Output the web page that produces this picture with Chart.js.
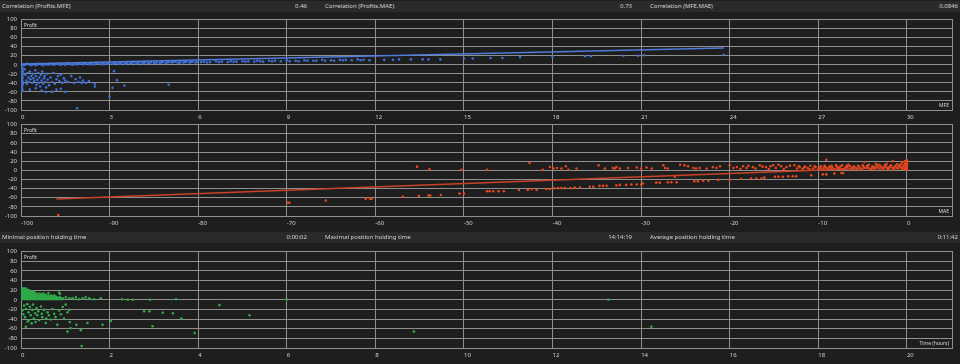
<!DOCTYPE html>
<html>
<head>
<meta charset="utf-8">
<script src="https://cdn.jsdelivr.net/npm/chart.js@4/dist/chart.umd.min.js"></script>
<style>
  body { margin: 0; width: 960px; height: 364px; background: #1e1e1e; overflow: hidden; font-family: "Noto Sans", sans-serif; }
  .bar { position: absolute; left: 0; width: 960px; height: 11px; background: #2a2a2a; color: #d2d2d2; font-size: 6px; line-height: 11px; }
  .bar span { position: absolute; top: 0; white-space: nowrap; }
  canvas { position: absolute; left: 0; }
</style>
</head>
<body>
<div class="bar" id="bar1" style="top:1px"></div>
<canvas id="c1" width="960" height="111" style="top:12px"></canvas>
<canvas id="c2" width="960" height="111" style="top:117px"></canvas>
<div class="bar" id="bar2" style="top:232px"></div>
<canvas id="c3" width="960" height="120" style="top:244px"></canvas>
<script>
// header stats
const corrLabels = ['Correlation (Profits,MFE)', 'Correlation (Profits,MAE)', 'Correlation (MFE,MAE)'];
const corrValues = ['0.46', '0.73', '0.0846'];
const timeLabels = ['Minimal position holding time', 'Maximal position holding time', 'Average position holding time'];
const timeValues = ['0:00:02', '14:14:19', '0:11:42'];

// chart 1: Profit vs MFE
const mfeBand = [
  [0.1,-1],[0.3,0],[0.5,-1],[0.7,0],[0.9,0],[1.1,0],[1.3,1],[1.5,0],[1.7,1],[1.9,1],[2.1,1],[2.3,2],[2.5,1],[2.7,2],[2.9,2],
  [3.1,2],[3.3,3],[3.5,2],[3.7,3],[3.9,3],[4.1,3],[4.3,4],[4.5,4],[4.7,4],[4.9,4],[5.1,5],[5.3,5],[5.5,5],[5.7,5],[5.9,5],
  [6.1,6],[6.4,6],[6.7,6],[7.0,6],[7.3,7],[7.6,7],[7.9,7],[8.2,7],[8.5,8],[8.8,8],[9.1,8],[9.4,8],[9.7,9],[10.0,9],[10.3,9],
  [10.6,9],[10.9,10],[11.2,10],[11.5,10],[11.8,10],
  [0.2,2],[0.4,1],[0.6,2],[0.8,1],[1.0,2],[1.2,2],[1.4,2],[1.6,3],[1.8,2],[2.0,3],[2.2,3],[2.4,3],[2.6,4],[2.8,3],[3.0,4],
  [3.2,4],[3.4,5],[3.6,4],[3.8,5],[4.0,5],[4.2,5],[4.4,6],[4.6,5],[4.8,6],[5.0,6],[5.2,7],[5.4,6],[5.6,7],[5.8,7],[6.2,7],
  [6.6,8],[7.1,8],[7.5,8],[8.0,9],[8.4,9],[9.0,10],[9.6,10],[10.2,11],[10.8,11],[11.4,12],
  [0.15,0],[0.35,-1],[0.55,1],[0.75,-1],[0.95,1],[1.15,1],[1.35,0],[1.55,2],[1.75,0],[1.95,2],[2.15,2],[2.35,1],[2.55,3],
  [2.75,1],[2.95,3],[3.15,3],[3.35,2],[3.55,3],[3.75,4],[3.95,4],[4.15,4],[4.35,3],[4.55,5],[4.75,5],[4.95,5],[5.15,6],
  [5.35,4],[5.55,6],[5.75,6],[5.95,6],[6.3,5],[6.8,7],[7.2,7],[7.7,8],[8.1,8],[8.6,9],[9.3,9],[9.9,9],[10.5,10],[11.0,11],[11.6,11],
  [12.3,11],[12.6,11],[12.8,12],[13.2,12],[13.6,12],[13.8,12],[14.2,12],[15.0,14],[15.3,14],[15.9,15],[16.3,15],
  [16.9,17],[18.0,18],[19.1,19],[19.3,19],[20.4,20],[20.9,20],[21.1,21],[23.8,22]
];
const mfeLoss = [
  [0.03,-5],[0.05,-8],[0.02,-12],[0.06,-15],[0.03,-18],[0.05,-22],[0.02,-25],[0.06,-28],[0.04,-31],[0.03,-34],
  [0.05,-37],[0.02,-40],[0.06,-43],[0.04,-46],[0.03,-50],[0.05,-55],[0.04,-58],
  [0.12,-10],[0.15,-22],[0.18,-35],[0.2,-42],[0.22,-18],[0.25,-28],[0.27,-38],[0.3,-15],[0.32,-32],[0.35,-25],
  [0.38,-40],[0.4,-20],[0.42,-30],[0.45,-36],[0.48,-12],[0.5,-25],[0.52,-44],[0.55,-33],[0.58,-18],[0.6,-40],
  [0.62,-28],[0.65,-48],[0.68,-22],[0.7,-35],[0.72,-15],[0.75,-42],[0.78,-30],[0.8,-25],[0.82,-38],[0.85,-50],
  [0.88,-20],[0.9,-33],[0.95,-45],[1.0,-28],[1.05,-38],[1.1,-18],[1.15,-42],[1.2,-32],[1.25,-25],[1.3,-36],
  [1.35,-22],[1.4,-40],[1.45,-30],[1.5,-35],[1.6,-38],[1.7,-25],[1.8,-40],[1.85,-32],[1.95,-38],[2.0,-28],
  [2.1,-35],[2.2,-40],[2.3,-36],[2.5,-42],
  [0.7,-57],[0.85,-60],[1.05,-60],[1.35,-53],[1.5,-60],[1.9,-96],[2.05,-40],[2.5,-48],[3.0,-70],[3.15,-14],
  [3.25,-34],[3.1,-51],[3.5,-46],[5.0,-44],[0.3,-55],[0.5,-52],[1.2,-55]
];
const mfeTrend = [[0, 2], [23.8, 37]];

// chart 2: Profit vs MAE
const maeLeft = [
  [-95.8,-98],[-69.9,-71],[-69.7,-71],[-65.6,-66],[-61.1,-62],[-60.6,-62],[-60.4,-62],[-56.9,-58],[-55.3,8],[-55.1,-56],
  [-54.0,-55],[-53.9,2],[-53.8,-55],[-52.6,-54],[-50.5,-51],[-50.3,1],[-50.0,-51]
];
const maeLower = [
  [-47.4,-46],[-47.1,-46],[-46.7,-46],[-46.1,-46],[-45.5,-46],[-43.8,-43],[-42.8,-43],[-42.4,-41],[-41.8,-43],[-40.7,-41],
  [-40.3,-41],[-39.9,-39],[-39.4,-39],[-39.0,-39],[-38.6,-39],[-38.0,-39],[-37.5,-38],[-36.9,-38],[-35.8,-36],[-35.4,-36],
  [-34.7,-34],[-34.3,-34],[-33.9,-34],[-32.8,-33],[-32.4,-32],[-31.7,-32],[-31.1,-31],[-30.5,-31],[-30.0,-31],[-29.8,-29],
  [-28.3,-27],[-27.9,-27],[-27.0,-26],[-26.6,-26],[-26.0,-26],[-24.0,-24],[-23.6,-24],[-23.0,-23],[-22.4,-23],[-21.3,-21],
  [-20.0,-20],[-18.7,-19],[-17.6,-18],[-17.0,-18],[-16.4,-18],[-16.1,-16],[-14.9,-14],[-14.5,-14],[-14.0,-14],[-13.4,-13],
  [-12.9,-13],[-12.5,-13],[-10.8,-11],[-9.5,-9],[-9.1,-9],[-8.2,-7],[-7.4,-6],[-7.2,-6]
];
const maeUpper = [
  [-47.4,1],[-42.6,16],[-41.1,1],[-40.3,7],[-39.9,4],[-39.5,5],[-39.0,4],[-38.5,9],[-38.2,1],[-37.3,4],[-34.8,11],[-34.1,4],
  [-33.2,5],[-33.0,4],[-32.8,7],[-32.4,4],[-31.5,5],[-30.5,6],[-30.0,4],[-29.4,6],[-28.8,4],[-27.5,11],[-27.3,5],[-27.0,4],
  [-26.2,-14],[-25.6,12],[-25.1,11],[-24.7,9],[-24.1,5],[-23.8,4],[-23.4,5],[-22.6,4],[-21.9,7],[-21.5,5],[-21.1,9],
  [-20.0,11],[-19.6,5],[-18.5,9],[-18.1,5],[-17.4,7],[-16.6,11],[-15.9,7],[-15.1,11],[-14.5,12],[-14.2,9],[-13.6,7],
  [-12.7,11],[-12.1,7],
  [-19.2,7],[-18.8,3],[-17.9,10],[-17.1,4],[-16.3,8],[-15.6,3],[-15.4,9],[-14.8,5],[-13.9,3],[-13.2,10],[-12.4,4],[-12.2,9],
  [-11.8,3],[-11.5,8],[-11.2,5],[-10.9,10],[-10.6,4],[-10.3,7],[-10.0,2],[-9.7,9],[-9.4,5],[-9.1,23],[-8.8,6],[-8.5,10],
  [-8.2,3],[-7.9,8],[-7.6,5],[-7.3,11],[-7.0,4],[-6.7,7],[-6.4,9],[-6.1,3],[-5.8,6],[-5.5,10],[-5.2,4],[-4.9,8],[-4.6,5],
  [-4.3,12],[-4.0,3],[-3.7,7],[-3.4,9],[-3.1,4],[-2.8,6],[-2.5,11],[-2.2,3],[-1.9,8],[-1.6,5],[-1.3,10],[-1.0,4],[-0.7,7],
  [-0.4,9],[-0.2,5],[-0.1,2],[0,12],
  [-11.6,6],[-11.0,2],[-10.4,9],[-9.8,4],[-9.2,7],[-8.6,3],[-8.0,11],[-7.4,2],[-6.8,10],[-6.2,5],[-5.6,2],[-5.0,11],
  [-4.4,7],[-3.8,5],[-3.2,12],[-2.6,6],[-2.0,2],[-1.4,7],[-0.8,12],[-0.3,3],[0,8],[0,5],[0,15],
  [-9.9,6],[-9.6,1],[-9.3,10],[-9.0,4],[-8.7,8],[-8.4,6],[-8.1,1],[-7.8,5],[-7.5,9],[-7.2,3],[-6.9,6],[-6.6,12],[-6.3,1],
  [-6.0,8],[-5.7,4],[-5.4,7],[-5.1,1],[-4.8,5],[-4.5,10],[-4.2,2],[-3.9,9],[-3.6,1],[-3.3,6],[-3.0,10],[-2.7,2],[-2.4,8],
  [-2.1,6],[-1.8,11],[-1.5,2],[-1.2,5],[-0.9,9],[-0.6,3],[-0.5,6],[-0.3,11],[-0.1,7],[0,1],[0,3],[0,10],
  [-0.2,14],[-0.6,14],[-1.1,13],[-2.3,14],[-3.5,14],[-0.1,17],[0,19],
  [-4.8,18],[-1.6,20],[-0.5,18],[-0.2,20],[0,22]
];
const maeTrend = [[-96, -63], [0, 8]];

// chart 3: Profit vs holding time (hours)
const timeBlock = [
  [0.02,1],[0.08,1],[0.14,1],[0.2,1],[0.26,1],[0.32,1],[0.38,1],[0.44,1],[0.5,1],[0.56,1],[0.62,1],[0.68,1],[0.74,1],[0.8,1],[0.86,1],[0.92,1],
  [0.05,3],[0.11,3],[0.17,3],[0.23,3],[0.29,3],[0.35,3],[0.41,3],[0.47,3],[0.53,3],[0.59,3],[0.65,3],[0.71,3],[0.77,3],[0.83,3],[0.89,3],
  [0.04,5],[0.1,5],[0.16,5],[0.22,5],[0.28,5],[0.34,5],[0.4,5],[0.46,5],[0.52,5],[0.58,5],[0.64,5],[0.7,5],[0.76,5],[0.82,5],[0.88,5],
  [0.05,7],[0.11,7],[0.17,7],[0.23,7],[0.29,7],[0.35,7],[0.41,7],[0.47,7],[0.53,7],[0.59,7],[0.65,7],[0.71,7],[0.78,7],
  [0.02,9],[0.08,9],[0.14,9],[0.2,9],[0.26,9],[0.32,9],[0.38,9],[0.44,9],[0.5,9],[0.56,9],[0.62,9],[0.68,9],[0.75,9],
  [0.02,11],[0.07,11],[0.13,11],[0.19,11],[0.25,11],[0.31,11],[0.37,11],[0.45,11],[0.55,11],
  [0.04,13],[0.1,13],[0.16,13],[0.22,13],[0.28,13],[0.34,13],[0.42,13],[0.5,13],
  [0.05,15],[0.11,15],[0.17,15],[0.23,15],[0.3,15],
  [0.02,17],[0.08,17],[0.14,17],[0.2,17],[0.27,17],
  [0.02,19],[0.07,19],[0.12,19],[0.18,19],
  [0.03,21],[0.09,21],[0.15,21],[0.05,24],[0.1,24],
  [0.86,15],[0.88,12],[0.62,14]
];
const timeFlat = [
  [0.94,3],[1.01,5],[1.09,3],[1.16,3],[1.24,5],[1.31,1],[1.39,3],[1.46,5],[1.54,3],[1.65,1],[1.8,3],
  [2.28,1],[2.41,0],[2.52,0],[2.91,0],[3.5,1],[6.0,1],[13.26,0]
];
const timeLoss = [
  [0.03,-22],[0.07,-12],[0.09,-36],[0.11,-19],[0.14,-9],[0.17,-26],[0.18,-42],[0.2,-15],[0.22,-32],[0.24,-49],
  [0.26,-21],[0.27,-10],[0.29,-39],[0.32,-28],[0.33,-46],[0.35,-17],[0.37,-32],[0.39,-24],[0.41,-42],[0.45,-14],
  [0.47,-29],[0.48,-36],[0.52,-21],[0.56,-48],[0.57,-39],[0.6,-26],[0.63,-32],[0.67,-41],[0.71,-19],[0.75,-29],
  [0.78,-36],[0.82,-52],[0.86,-22],[0.9,-30],[0.94,-15],[0.97,-39],[1.01,-10],[1.05,-26],[1.09,-21],[1.1,-46],
  [1.12,-59],[1.05,-66],[1.25,-52],[1.35,-63],[1.37,-96],[1.5,-48],[1.84,-52],[2.03,-44],[2.78,-24],[2.9,-24],
  [2.97,-55],[3.2,-27],[3.43,-28],[3.62,-39],[3.92,-69],[4.48,-11],[5.16,-32],[8.87,-66],[14.23,-56],
  [0.11,-56],[0.05,-30],[0.15,-45]
];

const gridColor = '#8f8f8f';
const tickColor = '#cfcfcf';
const tickFont = { family: 'Noto Sans', size: 6 };
const toXY = arr => arr.map(p => ({ x: p[0], y: p[1] }));

const framePlugin = {
  id: 'frame',
  afterDraw(chart, args, opts) {
    const { ctx, chartArea: a } = chart;
    ctx.save();
    ctx.strokeStyle = gridColor;
    ctx.lineWidth = 1;
    ctx.beginPath();
    ctx.moveTo(a.right - 0.5, a.top);
    ctx.lineTo(a.right - 0.5, a.bottom);
    ctx.stroke();
    ctx.fillStyle = '#d8d8d8';
    ctx.font = '5px "Noto Sans"';
    ctx.textBaseline = 'top';
    ctx.textAlign = 'left';
    ctx.fillText('Profit', a.left + 3, a.top + 3);
    ctx.textAlign = 'right';
    ctx.textBaseline = 'bottom';
    ctx.fillText(opts.xTitle, a.right - 4, a.bottom - 2);
    ctx.restore();
  }
};

function makeChart(id, datasets, xOpts, padTop, axisH, xTitle) {
  return new Chart(document.getElementById(id), {
    type: 'scatter',
    data: { datasets },
    options: {
      responsive: false,
      animation: false,
      layout: { padding: { top: padTop, right: 7, left: 0, bottom: 0 } },
      plugins: { legend: { display: false }, tooltip: { enabled: false }, frame: { xTitle } },
      scales: {
        x: {
          type: 'linear', min: xOpts.min, max: xOpts.max,
          ticks: { stepSize: xOpts.step, includeBounds: false, align: 'start', padding: 4, color: tickColor, font: tickFont, maxRotation: 0, autoSkip: false },
          grid: { color: gridColor, drawTicks: false },
          border: { display: false },
          afterFit: s => { s.height = axisH; }
        },
        y: {
          min: -100, max: 100,
          ticks: { stepSize: 20, padding: 4, color: tickColor, font: tickFont, autoSkip: false },
          grid: { color: gridColor, drawTicks: false },
          border: { display: false },
          afterFit: s => { s.width = 21; }
        }
      }
    },
    plugins: [framePlugin]
  });
}

function pts(data, color, r) {
  return { data: toXY(data), backgroundColor: color, borderWidth: 0, pointRadius: r, order: 1 };
}
function trend(data, color, w) {
  return { data: toXY(data), showLine: true, borderColor: color, borderWidth: w, pointRadius: 0, order: 0 };
}

function fillBar(id, labels, values) {
  const bar = document.getElementById(id);
  const cols = [[2, 307], [325, 632], [650, 958]];
  labels.forEach((t, i) => {
    const l = document.createElement('span');
    l.textContent = t;
    l.style.left = cols[i][0] + 'px';
    bar.appendChild(l);
    const v = document.createElement('span');
    v.textContent = values[i];
    v.style.right = (960 - cols[i][1]) + 'px';
    bar.appendChild(v);
  });
}

fillBar('bar1', corrLabels, corrValues);
fillBar('bar2', timeLabels, timeValues);

const blue = '#3f6fd6', red = '#e4481f', green = '#2fab4a';

makeChart('c1', [trend(mfeTrend, '#4f7bdb', 1.5), pts(mfeBand, blue, 1.3), pts(mfeLoss, blue, 1.3)],
  { min: 0, max: 31.56, step: 3 }, 6, 13, 'MFE');
makeChart('c2', [trend(maeTrend, '#c94327', 1.5), pts(maeLeft, red, 1.3), pts(maeLower, red, 1.3), pts(maeUpper, red, 1.3)],
  { min: -100, max: 5.2, step: 10 }, 6, 12, 'MAE');
makeChart('c3', [pts(timeBlock, green, 1.3), pts(timeFlat, green, 1.3), pts(timeLoss, green, 1.3)],
  { min: 0, max: 21.04, step: 2 }, 5, 16, 'Time (hours)');
</script>
</body>
</html>
